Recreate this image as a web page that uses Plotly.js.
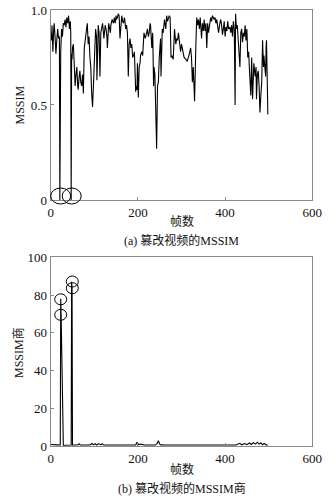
<!DOCTYPE html>
<html>
<head>
<meta charset="utf-8">
<script src="https://cdn.plot.ly/plotly-3.0.1.min.js"></script>
<style>html,body{margin:0;padding:0;background:#fff;}#chart{width:335px;height:499px;}</style>
</head>
<body>
<div id="chart"></div>
<script>
// (a) MSSIM of tampered video (rows of 10 values, aligned)
var framesA = [
  0,2,3,5,7,8,10,12,14,16,
  18,20,21,22,23,25,27,29,31,33,
  35,37,39,41,43,45,46,47,48,49,
  50,52,54,56,58,60,62,63,65,67,
  69,71,73,75,77,79,81,83,84,86,
  88,90,92,94,96,98,100,102,103,105,
  106,108,109,111,113,115,117,119,121,122,
  125,127,129,130,133,135,137,138,141,144,
  146,148,150,151,153,155,157,159,161,163,
  165,167,169,170,172,174,176,178,180,182,
  184,186,188,190,192,193,195,196,198,199,
  201,203,205,206,209,211,214,217,220,222,
  224,226,228,229,232,234,236,237,239,241,
  243,245,247,249,252,253,255,256,258,261,
  264,266,268,270,272,274,276,278,281,284,
  287,289,291,293,295,298,300,302,306,310,
  313,317,321,323,325,327,330,333,335,337,
  339,341,343,346,348,350,352,354,356,358,
  360,362,365,367,369,371,373,375,377,379,
  381,383,385,388,390,392,394,396,398,400,
  402,404,406,408,411,413,415,417,419,421,
  423,424,426,428,430,432,434,436,438,440,
  442,444,446,448,450,452,454,456,459,461,
  463,466,469,471,472,474,476,478,480,482,
  484,486,488,489,491,493,494,495,497,498
];
var mssimA = [
  0.88,0.84,0.92,0.78,0.90,0.93,0.86,0.77,0.84,0.90,
  0.85,0.86,0.00,0.75,0.78,0.90,0.86,0.93,0.92,0.95,
  0.91,0.96,0.93,0.97,0.90,0.94,0.88,0.00,0.77,0.74,
  0.80,0.82,0.72,0.60,0.66,0.70,0.60,0.58,0.64,0.68,
  0.62,0.60,0.66,0.56,0.80,0.84,0.86,0.90,0.93,0.82,
  0.86,0.75,0.70,0.56,0.49,0.60,0.70,0.82,0.90,0.86,
  0.63,0.80,0.92,0.88,0.65,0.88,0.90,0.93,0.88,0.85,
  0.92,0.90,0.86,0.80,0.93,0.90,0.88,0.92,0.95,0.93,
  0.96,0.93,0.97,0.95,0.96,0.98,0.97,0.85,0.95,0.97,
  0.94,0.93,0.96,0.95,0.90,0.92,0.88,0.65,0.82,0.85,
  0.80,0.82,0.75,0.76,0.78,0.72,0.57,0.60,0.58,0.72,
  0.54,0.70,0.72,0.76,0.78,0.76,0.88,0.85,0.88,0.90,
  0.86,0.88,0.93,0.92,0.80,0.88,0.60,0.70,0.66,0.50,
  0.27,0.60,0.62,0.75,0.85,0.65,0.80,0.90,0.88,0.95,
  0.90,0.97,0.94,0.96,0.97,0.96,0.75,0.76,0.74,0.90,
  0.82,0.85,0.84,0.88,0.85,0.78,0.82,0.80,0.75,0.74,
  0.73,0.76,0.80,0.75,0.62,0.70,0.52,0.82,0.96,0.92,
  0.95,0.90,0.96,0.85,0.93,0.89,0.95,0.89,0.93,0.80,
  0.93,0.88,0.95,0.96,0.94,0.97,0.96,0.95,0.96,0.93,
  0.95,0.90,0.88,0.93,0.95,0.92,0.87,0.90,0.94,0.86,
  0.91,0.89,0.94,0.90,0.91,0.88,0.92,0.86,0.94,0.90,
  0.50,0.98,0.90,0.92,0.85,0.78,0.70,0.88,0.90,0.83,
  0.88,0.86,0.92,0.84,0.90,0.75,0.78,0.68,0.55,0.75,
  0.53,0.72,0.65,0.70,0.53,0.66,0.68,0.60,0.46,0.55,
  0.62,0.84,0.70,0.76,0.72,0.65,0.80,0.84,0.60,0.45
];

// (b) MSSIM quotient of tampered video
var framesB = [0,5,10,15,20,22,23,24,29,35,40,47,48,49,50,55,62,65,68,75,90,95,98,102,106,110,115,118,122,130,150,180,195,198,202,206,215,240,244,247,250,253,260,300,350,400,425,430,434,438,445,450,456,460,465,470,474,478,482,486,490,494,498];
var quotB = [0.8,0.6,0.5,0.6,0.5,0.5,78,69,0.4,0.5,0.5,0.5,87,84,0.5,0.5,0.5,1.2,0.5,0.5,0.5,1.3,0.6,1.2,0.5,1.3,0.6,1.2,0.5,0.5,0.5,0.5,0.5,2.0,0.6,1.0,0.5,0.5,1.2,2.8,1.0,0.6,0.5,0.5,0.5,0.5,0.5,1.0,1.4,0.6,1.3,0.7,1.6,0.8,1.8,1.0,2.0,1.0,1.6,0.7,1.4,0.6,0.5];

var xTicks = [0,200,400,600];
var yTicksA = [0,0.5,1.0];
var yTickTextA = ['0','0.5','1.0'];
var yTicksB = [0,20,40,60,80,100];

var serif = 'Liberation Serif, "Times New Roman", serif';
var cjk = 'Liberation Serif, "Noto Sans CJK SC", serif';
var axisGray = '#8a8a8a';

function axisCommon(extra){
  var a = {
    showgrid:false, zeroline:false, showline:true, linecolor:axisGray, linewidth:1,
    mirror:true, ticks:'inside', ticklen:3, tickcolor:axisGray, tickwidth:1,
    tickfont:{family:serif, size:13, color:'#111'}, fixedrange:true
  };
  for (var k in extra) a[k] = extra[k];
  return a;
}

var traces = [
  {x:framesA, y:mssimA, type:'scatter', mode:'lines', xaxis:'x', yaxis:'y',
   line:{color:'#000', width:1.1}, hoverinfo:'skip'},
  {x:framesB, y:quotB, type:'scatter', mode:'lines', xaxis:'x2', yaxis:'y2',
   line:{color:'#000', width:1.1}, hoverinfo:'skip'}
];

function px(x){ return x/335; }
function py(y){ return 1 - y/499; }

function ellipse(cx, cy, w, h){
  return {type:'circle', xref:'paper', yref:'paper',
    x0:px(cx - w/2), x1:px(cx + w/2), y0:py(cy + h/2), y1:py(cy - h/2),
    line:{color:'#000', width:1}, fillcolor:'rgba(0,0,0,0)'};
}

var layout = {
  width:335, height:499, margin:{l:0, r:0, t:0, b:0},
  paper_bgcolor:'#fff', plot_bgcolor:'#fff', showlegend:false,
  xaxis: axisCommon({domain:[0.1513,0.9322], range:[0,600], tickvals:xTicks, anchor:'y'}),
  yaxis: axisCommon({domain:[0.5992,0.98], range:[0,1], tickvals:yTicksA, ticktext:yTickTextA, anchor:'x'}),
  xaxis2: axisCommon({domain:[0.1513,0.9322], range:[0,600], tickvals:xTicks, anchor:'y2'}),
  yaxis2: axisCommon({domain:[0.1062,0.4844], range:[0,100], tickvals:yTicksB, anchor:'x2'}),
  shapes: [
    ellipse(60.7, 196, 20, 16),
    ellipse(71.7, 196, 19, 16),
    ellipse(60.7, 299.3, 12, 11),
    ellipse(60.7, 314.8, 12, 11),
    ellipse(72.3, 281.5, 12, 11),
    ellipse(72.3, 288.2, 12, 11)
  ],
  annotations: [
    {text:'帧数', xref:'paper', yref:'paper', x:px(181.5), y:py(221.7), showarrow:false, xanchor:'center', yanchor:'middle', font:{family:cjk, size:12, color:'#111'}},
    {text:'(a) 篡改视频的MSSIM', xref:'paper', yref:'paper', x:px(181.5), y:py(240.7), showarrow:false, xanchor:'center', yanchor:'middle', font:{family:cjk, size:12, color:'#111'}},
    {text:'MSSIM', xref:'paper', yref:'paper', x:px(20), y:py(105.5), showarrow:false, textangle:-90, xanchor:'center', yanchor:'middle', font:{family:serif, size:12, color:'#111'}},
    {text:'帧数', xref:'paper', yref:'paper', x:px(181.5), y:py(469), showarrow:false, xanchor:'center', yanchor:'middle', font:{family:cjk, size:12, color:'#111'}},
    {text:'(b) 篡改视频的MSSIM商', xref:'paper', yref:'paper', x:px(181.5), y:py(488), showarrow:false, xanchor:'center', yanchor:'middle', font:{family:cjk, size:12, color:'#111'}},
    {text:'MSSIM商', xref:'paper', yref:'paper', x:px(18.5), y:py(352.5), showarrow:false, textangle:-90, xanchor:'center', yanchor:'middle', font:{family:cjk, size:12, color:'#111'}}
  ]
};

Plotly.newPlot('chart', traces, layout, {staticPlot:true, displayModeBar:false});
</script>
</body>
</html>
